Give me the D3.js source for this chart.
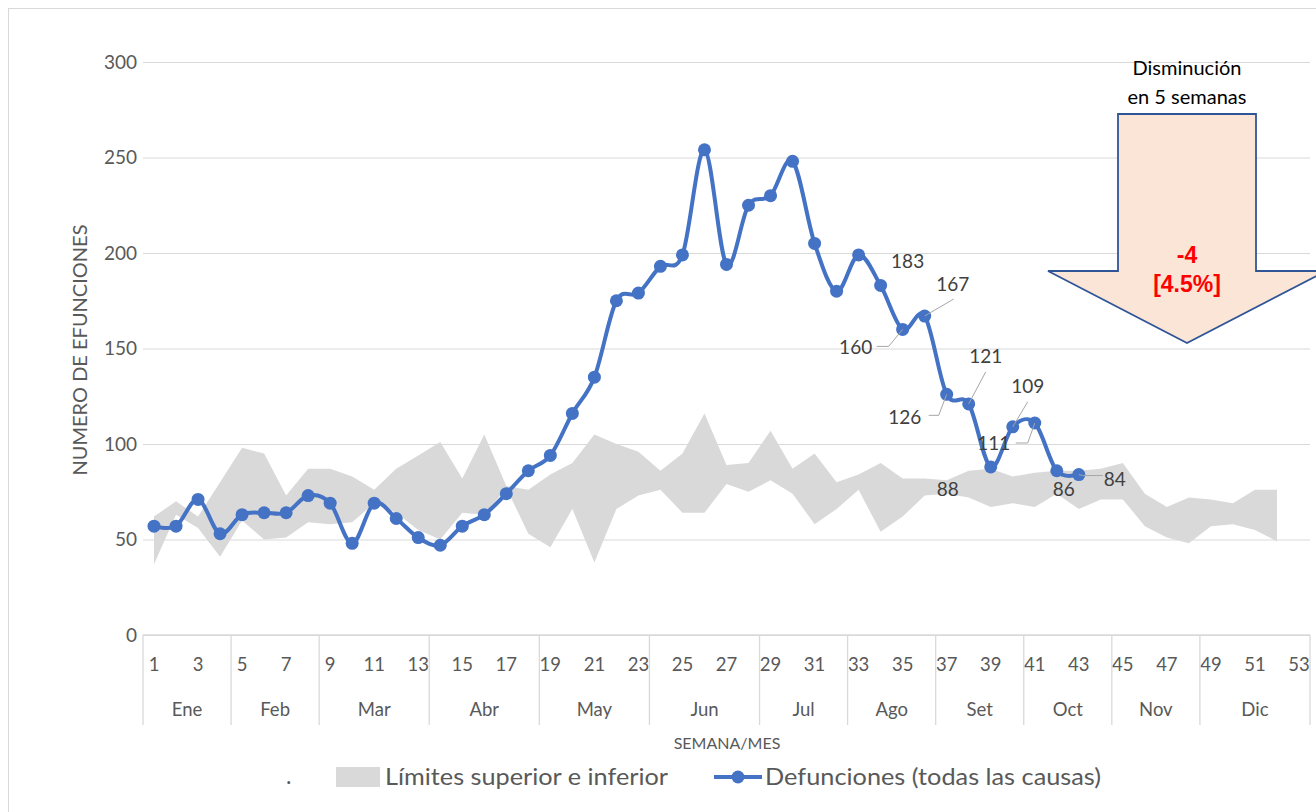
<!DOCTYPE html>
<html>
<head>
<meta charset="utf-8">
<script src="https://cdn.jsdelivr.net/npm/d3@7"></script>
<style>
  body { margin: 0; background: #fff; }
  svg { display: block; font-family: Lato, "Open Sans", sans-serif; }
</style>
</head>
<body>
<svg id="chart" width="1316" height="812"></svg>
<script>
// semanas 1..53
const weeks = d3.range(1, 54);
// defunciones (todas las causas), semanas 1..43
const deaths = [57, 57, 71, 53, 63, 64, 64, 73, 69, 48, 69, 61, 51, 47, 57, 63, 74, 86, 94, 116,
  135, 175, 179, 193, 199, 254, 194, 225, 230, 248, 205, 180, 199, 183, 160, 167, 126, 121, 88, 109,
  111, 86, 84];
// limites superior / inferior, semanas 1..52
const upper = [62, 70, 62, 80, 98, 95, 73, 87, 87, 83, 76, 87, 94, 101, 82, 105, 78, 76, 84, 90,
  105, 100, 96, 86, 95, 116, 89, 90, 107, 87, 95, 80, 84, 90, 82, 82, 81, 86, 87, 83,
  85, 86, 86, 87, 90, 74, 67, 72, 71, 69, 76, 76];
const lower = [37, 63, 56, 41, 60, 50, 51, 59, 58, 59, 69, 64, 55, 50, 64, 63, 77, 53, 46, 66,
  38, 66, 73, 76, 64, 64, 79, 75, 81, 74, 58, 66, 76, 54, 62, 73, 74, 72, 67, 69,
  67, 74, 66, 71, 71, 57, 51, 48, 57, 58, 55, 49];
const monthNames = ["Ene", "Feb", "Mar", "Abr", "May", "Jun", "Jul", "Ago", "Set", "Oct", "Nov", "Dic"];
const monthWeeks = [4, 4, 5, 5, 5, 5, 4, 4, 4, 4, 4, 5];
const yTicks = [0, 50, 100, 150, 200, 250, 300];
// semanas etiquetadas y donde va cada etiqueta
const labelWeeks = [34, 35, 36, 37, 38, 39, 40, 41, 42, 43];
const labelPos = {
  34: {dx: 27, dy: -25},
  35: {dx: -47, dy: 17, lead: [[-14, 17], [-26, 17]]},
  36: {dx: 28, dy: -33, lead: [[29, -17]]},
  37: {dx: -42, dy: 22, lead: [[-8, 21], [-18, 21]]},
  38: {dx: 17, dy: -48, lead: [[17, -32]]},
  39: {dx: -43, dy: 22},
  40: {dx: 15, dy: -41, lead: [[15, -25]]},
  41: {dx: -41, dy: 20, lead: [[-7, 20], [-19, 20]]},
  42: {dx: 7, dy: 18},
  43: {dx: 36, dy: 4, lead: [[4, 1], [24, 1]]}
};
const arrowTitle = ["Disminución", "en 5 semanas"];
const arrowValue = ["-4", "[4.5%]"];

const svg = d3.select("#chart");
const margin = {top: 62, right: 6, bottom: 177, left: 143};
const W = 1316, H = 812;

// marco
svg.append("rect")
  .attr("x", 8.5).attr("y", 8.5)
  .attr("width", 1330).attr("height", 830)
  .attr("fill", "none").attr("stroke", "#d9d9d9");

const x = d3.scaleBand(weeks, [margin.left, W - margin.right]);
const cx = w => x(w) + x.bandwidth() / 2;
const y = d3.scaleLinear([0, 300], [H - margin.bottom, margin.top]);

// rejilla + eje y
svg.append("g")
  .attr("transform", `translate(${margin.left},0)`)
  .call(d3.axisLeft(y).tickValues(yTicks).tickSize(-(W - margin.right - margin.left)).tickPadding(6))
  .call(g => g.select(".domain").remove())
  .call(g => g.selectAll("line").attr("stroke", "#d9d9d9"))
  .call(g => g.selectAll("text").attr("fill", "#595959").style("font-size", "19px").style("font-family", "Lato"));

// banda
const area = d3.area()
  .x((d, i) => cx(i + 1))
  .y0(d => y(d[1]))
  .y1(d => y(d[0]));
svg.append("path")
  .datum(upper.map((u, i) => [u, lower[i]]))
  .attr("fill", "#d9d9d9")
  .attr("d", area);

// eje x
const x0 = y(0);
svg.append("line")
  .attr("x1", margin.left).attr("x2", W - margin.right)
  .attr("y1", x0).attr("y2", x0)
  .attr("stroke", "#d9d9d9").attr("stroke-width", 1.3);

svg.append("g")
  .attr("transform", `translate(0,${x0})`)
  .call(d3.axisBottom(x).tickValues(weeks.filter(w => w % 2 === 1)).tickSize(0).tickPadding(23))
  .call(g => g.select(".domain").remove())
  .call(g => g.selectAll("text").attr("fill", "#595959").style("font-size", "18.5px").style("font-family", "Lato"));

let cum = 0;
const months = monthNames.map((m, i) => {
  const s = cum; cum += monthWeeks[i];
  return {name: m, start: s, end: cum};
});
const edge = k => margin.left + k * x.step();
svg.append("g")
  .selectAll("line")
  .data([0].concat(months.map(m => m.end)))
  .join("line")
  .attr("x1", d => edge(d)).attr("x2", d => edge(d))
  .attr("y1", x0).attr("y2", x0 + 90)
  .attr("stroke", "#d9d9d9").attr("stroke-width", 1.3);
svg.append("g")
  .selectAll("text")
  .data(months)
  .join("text")
  .attr("x", d => (edge(d.start) + edge(d.end)) / 2)
  .attr("y", x0 + 81)
  .attr("text-anchor", "middle")
  .attr("fill", "#595959")
  .style("font-size", "18.5px")
  .text(d => d.name);

svg.append("text")
  .attr("x", 727).attr("y", 749)
  .attr("text-anchor", "middle")
  .attr("fill", "#595959")
  .style("font-size", "16px")
  .text("SEMANA/MES");

svg.append("text")
  .attr("transform", `translate(87,350) rotate(-90)`)
  .attr("text-anchor", "middle")
  .attr("fill", "#595959")
  .style("font-size", "20px")
  .text("NUMERO DE EFUNCIONES");

// linea de defunciones
const line = d3.line()
  .x((d, i) => cx(i + 1))
  .y(d => y(d))
  .curve(d3.curveCatmullRom.alpha(0));
svg.append("path")
  .datum(deaths)
  .attr("fill", "none")
  .attr("stroke", "#4472c4")
  .attr("stroke-width", 4)
  .attr("stroke-linejoin", "round")
  .attr("d", line);
svg.append("g")
  .selectAll("circle")
  .data(deaths)
  .join("circle")
  .attr("cx", (d, i) => cx(i + 1))
  .attr("cy", d => y(d))
  .attr("r", 6.5)
  .attr("fill", "#4472c4");

// etiquetas
const lab = svg.append("g");
labelWeeks.forEach(w => {
  const p = labelPos[w], px = cx(w), py = y(deaths[w - 1]);
  if (p.lead) {
    const pts = [[px, py]].concat(p.lead.map(([a, b]) => [px + a, py + b]));
    lab.append("path")
      .attr("d", d3.line()(pts))
      .attr("fill", "none")
      .attr("stroke", "#a6a6a6")
      .attr("stroke-width", 1);
  }
  lab.append("text")
    .attr("x", px + p.dx).attr("y", py + p.dy)
    .attr("text-anchor", "middle")
    .attr("dominant-baseline", "central")
    .attr("fill", "#404040")
    .style("font-size", "19px")
    .text(deaths[w - 1]);
});

// flecha
const ax = 1187, shaftW = 138, wingW = 278, topY = 114, shoulderY = 271, tipY = 343;
svg.append("path")
  .attr("d", d3.line()([
    [ax - shaftW / 2, topY], [ax + shaftW / 2, topY], [ax + shaftW / 2, shoulderY],
    [ax + wingW / 2, shoulderY], [ax, tipY], [ax - wingW / 2, shoulderY],
    [ax - shaftW / 2, shoulderY]]) + "Z")
  .attr("fill", "#fbe5d6")
  .attr("stroke", "#2f5597")
  .attr("stroke-width", 1.8);
svg.append("g")
  .selectAll("text")
  .data(arrowTitle)
  .join("text")
  .attr("x", ax).attr("y", (d, i) => 75 + i * 29)
  .attr("text-anchor", "middle")
  .attr("fill", "#000")
  .style("font-size", "20px")
  .text(d => d);
svg.append("g")
  .selectAll("text")
  .data(arrowValue)
  .join("text")
  .attr("x", ax).attr("y", (d, i) => 263 + i * 29)
  .attr("text-anchor", "middle")
  .attr("fill", "#ff0000")
  .style("font-size", "23px")
  .style("font-weight", "bold")
  .style("font-family", "Liberation Sans, Arial, sans-serif")
  .text(d => d);

// leyenda
const leg = svg.append("g").style("font-size", "23px").attr("fill", "#595959");
leg.append("text").attr("x", 286).attr("y", 784).text(".");
leg.append("rect").attr("x", 336).attr("y", 767).attr("width", 44).attr("height", 20).attr("fill", "#d9d9d9");
leg.append("text").attr("x", 385).attr("y", 785)
  .attr("textLength", 283).attr("lengthAdjust", "spacingAndGlyphs")
  .text("Límites superior e inferior");
leg.append("line").attr("x1", 714).attr("x2", 762).attr("y1", 777).attr("y2", 777)
  .attr("stroke", "#4472c4").attr("stroke-width", 4);
leg.append("circle").attr("cx", 738).attr("cy", 777).attr("r", 6.5).attr("fill", "#4472c4");
leg.append("text").attr("x", 765).attr("y", 785)
  .attr("textLength", 336).attr("lengthAdjust", "spacingAndGlyphs")
  .text("Defunciones (todas las causas)");
</script>
</body>
</html>
